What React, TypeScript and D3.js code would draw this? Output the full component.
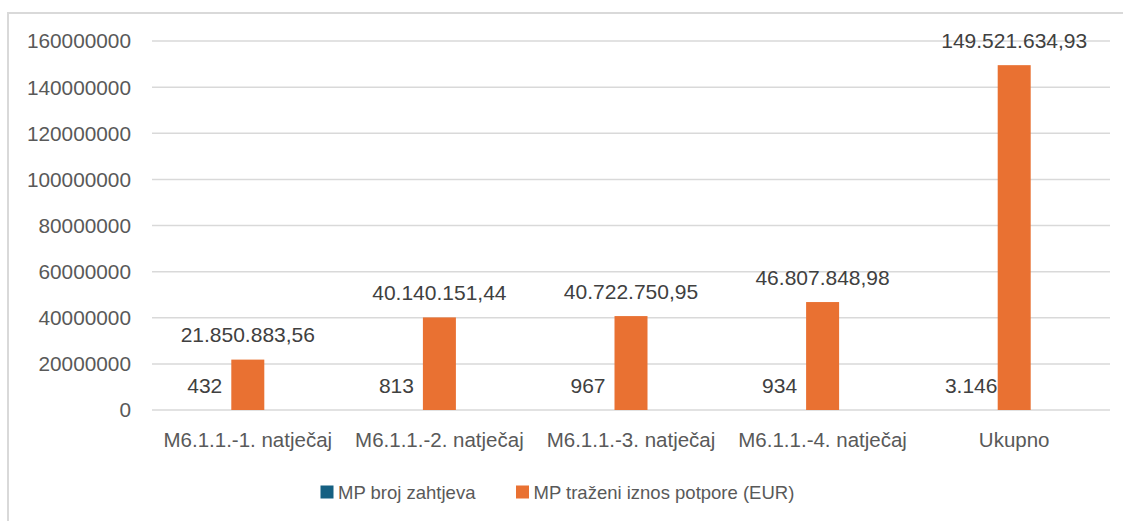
import { useEffect, useRef } from "react"
import * as d3 from "d3"

const categories = [
  "M6.1.1.-1. natječaj",
  "M6.1.1.-2. natječaj",
  "M6.1.1.-3. natječaj",
  "M6.1.1.-4. natječaj",
  "Ukupno",
]
const brojZahtjeva = [432, 813, 967, 934, 3146]
const iznosPotpore = [21850883.56, 40140151.44, 40722750.95, 46807848.98, 149521634.93]
const yTicks = [0, 20000000, 40000000, 60000000, 80000000, 100000000, 120000000, 140000000, 160000000]
const seriesNames = ["MP broj zahtjeva", "MP traženi iznos potpore (EUR)"]
const seriesColors = ["#156082", "#E97132"]

const fmtInt = (v: number) => d3.format(",")(v).replace(/,/g, ".")
const fmtMoney = (v: number) => {
  const s = d3.format(",.2f")(v)
  return s.replace(/,/g, "#").replace(".", ",").replace(/#/g, ".")
}

export default function App() {
  const svgRef = useRef<SVGSVGElement | null>(null)

  useEffect(() => {
    if (!svgRef.current) return
    const svg = d3.select(svgRef.current)
    svg.selectAll("*").remove()

    const width = 1123
    const height = 521
    const margin = { top: 41, right: 13, bottom: 111, left: 152 }
    const numFont = "'Liberation Sans', Arial, sans-serif"

    // chart frame (right and bottom edges fall outside the picture)
    svg
      .append("rect")
      .attr("x", 8)
      .attr("y", 13)
      .attr("width", width + 20)
      .attr("height", height + 20)
      .attr("fill", "#fff")
      .attr("stroke", "#d9d9d9")
      .attr("stroke-width", 2)

    const x = d3
      .scaleBand<string>()
      .domain(categories)
      .range([margin.left, width - margin.right])

    const y = d3
      .scaleLinear()
      .domain([0, 160000000])
      .range([height - margin.bottom, margin.top])

    const barW = 33
    const blueOffset = -43

    // gridlines
    svg
      .append("g")
      .selectAll("line")
      .data(yTicks)
      .join("line")
      .attr("x1", margin.left)
      .attr("x2", width - margin.right)
      .attr("y1", (d) => y(d))
      .attr("y2", (d) => y(d))
      .attr("stroke", "#d9d9d9")
      .attr("stroke-width", 1.5)

    // y tick labels
    svg
      .append("g")
      .selectAll("text")
      .data(yTicks)
      .join("text")
      .text((d) => String(d))
      .attr("x", 131)
      .attr("y", (d) => y(d))
      .attr("dy", "0.36em")
      .attr("text-anchor", "end")
      .attr("fill", "#595959")
      .attr("font-family", numFont)
      .attr("font-size", 20.8)

    // blue series (tiny on this scale)
    svg
      .append("g")
      .selectAll("rect")
      .data(brojZahtjeva)
      .join("rect")
      .attr("x", (_, i) => (x(categories[i]) ?? 0) + x.bandwidth() / 2 + blueOffset - barW / 2)
      .attr("y", (d) => y(d))
      .attr("width", barW)
      .attr("height", (d) => y(0) - y(d))
      .attr("fill", seriesColors[0])

    // orange series
    svg
      .append("g")
      .selectAll("rect")
      .data(iznosPotpore)
      .join("rect")
      .attr("x", (_, i) => (x(categories[i]) ?? 0) + x.bandwidth() / 2 - barW / 2)
      .attr("y", (d) => y(d))
      .attr("width", barW)
      .attr("height", (d) => y(0) - y(d))
      .attr("fill", seriesColors[1])

    // value labels
    svg
      .append("g")
      .selectAll("text")
      .data(brojZahtjeva)
      .join("text")
      .text((d) => fmtInt(d))
      .attr("x", (_, i) => (x(categories[i]) ?? 0) + x.bandwidth() / 2 + blueOffset)
      .attr("y", (d) => y(d) - 25)
      .attr("dy", "0.36em")
      .attr("text-anchor", "middle")
      .attr("fill", "#404040")
      .attr("font-family", numFont)
      .attr("font-size", 21)

    svg
      .append("g")
      .selectAll("text")
      .data(iznosPotpore)
      .join("text")
      .text((d) => fmtMoney(d))
      .attr("x", (_, i) => (x(categories[i]) ?? 0) + x.bandwidth() / 2)
      .attr("y", (d) => y(d) - 25)
      .attr("dy", "0.36em")
      .attr("text-anchor", "middle")
      .attr("fill", "#404040")
      .attr("font-family", numFont)
      .attr("font-size", 21)

    // category labels
    svg
      .append("g")
      .selectAll("text")
      .data(categories)
      .join("text")
      .text((d) => d)
      .attr("x", (d) => (x(d) ?? 0) + x.bandwidth() / 2)
      .attr("y", 440)
      .attr("dy", "0.36em")
      .attr("text-anchor", "middle")
      .attr("fill", "#595959")
      .attr("font-family", numFont)
      .attr("font-size", 20.5)

    // legend
    const legendX = [320.5, 516]
    const legend = svg
      .append("g")
      .selectAll("g")
      .data(seriesNames)
      .join("g")
      .attr("transform", (_, i) => `translate(${legendX[i]}, 492)`)
    legend
      .append("rect")
      .attr("x", 0)
      .attr("y", -6.5)
      .attr("width", 13)
      .attr("height", 13)
      .attr("fill", (_, i) => seriesColors[i])
    legend
      .append("text")
      .text((d) => d)
      .attr("x", 17.5)
      .attr("y", 0)
      .attr("dy", "0.36em")
      .attr("fill", "#595959")
      .attr("font-family", numFont)
      .attr("font-size", 18.5)
  }, [])

  return (
    <svg
      ref={svgRef}
      width={1123}
      height={521}
      style={{ position: "absolute", left: 0, top: 0, background: "#fff" }}
    />
  )
}
